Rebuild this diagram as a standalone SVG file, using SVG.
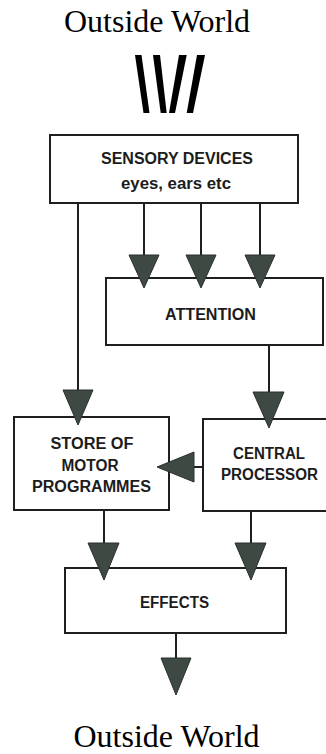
<svg xmlns="http://www.w3.org/2000/svg" width="326" height="754" viewBox="0 0 326 754">
  <style>
    .box { fill: #ffffff; stroke: #1f1f1f; stroke-width: 2; }
    .lbl { font-family: "Liberation Sans", Arial, sans-serif; font-weight: bold; font-size: 16px; fill: #1c1c1c; text-anchor: middle; }
    .world { font-family: "Liberation Serif", "Times New Roman", serif; font-size: 32px; fill: #000; text-anchor: middle; }
    .wire { stroke: #1f1f1f; stroke-width: 2; fill: none; }
    .head { fill: #3e4944; stroke: #2a302d; stroke-width: 1; stroke-linejoin: round; }
    .ray { fill: #000; }
  </style>

  <rect width="326" height="754" fill="#ffffff"/>

  <!-- source of stimuli -->
  <g id="world-in">
    <text class="world" x="157" y="32">Outside World</text>
    <polygon class="ray" points="135,55 141.5,55 149.5,113 143.5,113"/>
    <polygon class="ray" points="153,55 160,55 166.7,113 160.7,113"/>
    <polygon class="ray" points="179,55 186.7,55 175,113 169,113"/>
    <polygon class="ray" points="197,55 205,55 193,113 186.7,113"/>
  </g>

  <!-- connectors -->
  <g id="connectors">
    <line class="wire" x1="78" y1="203" x2="78" y2="392"/>
    <line class="wire" x1="144" y1="203" x2="144" y2="257"/>
    <line class="wire" x1="201" y1="203" x2="201" y2="257"/>
    <line class="wire" x1="260" y1="203" x2="260" y2="257"/>
    <line class="wire" x1="269" y1="345" x2="269" y2="394"/>
    <line class="wire" x1="192" y1="467" x2="203" y2="467"/>
    <line class="wire" x1="104" y1="510" x2="104" y2="545"/>
    <line class="wire" x1="251" y1="511" x2="251" y2="545"/>
    <line class="wire" x1="176" y1="633" x2="176" y2="660"/>
  </g>

  <g id="sensory">
    <rect class="box" x="50" y="135" width="248" height="68"/>
    <text class="lbl" x="177" y="164" textLength="152" lengthAdjust="spacingAndGlyphs">SENSORY DEVICES</text>
    <text class="lbl" x="176" y="189" textLength="110" lengthAdjust="spacingAndGlyphs">eyes, ears etc</text>
  </g>

  <g id="attention">
    <rect class="box" x="106" y="278" width="217" height="67"/>
    <text class="lbl" x="210.5" y="320" textLength="91" lengthAdjust="spacingAndGlyphs">ATTENTION</text>
  </g>

  <g id="store">
    <rect class="box" x="14" y="417" width="155" height="93"/>
    <text class="lbl" x="92" y="449" textLength="83" lengthAdjust="spacingAndGlyphs">STORE OF</text>
    <text class="lbl" x="90" y="470.5" textLength="57" lengthAdjust="spacingAndGlyphs">MOTOR</text>
    <text class="lbl" x="91.5" y="491.5" textLength="119" lengthAdjust="spacingAndGlyphs">PROGRAMMES</text>
  </g>

  <g id="central">
    <rect class="box" x="203" y="419" width="130" height="92"/>
    <text class="lbl" x="269" y="459" textLength="72" lengthAdjust="spacingAndGlyphs">CENTRAL</text>
    <text class="lbl" x="269.5" y="480" textLength="97" lengthAdjust="spacingAndGlyphs">PROCESSOR</text>
  </g>

  <g id="effects">
    <rect class="box" x="65" y="568" width="221" height="65"/>
    <text class="lbl" x="174.5" y="608" textLength="69" lengthAdjust="spacingAndGlyphs">EFFECTS</text>
  </g>

  <!-- arrowheads drawn over the box edges -->
  <g id="heads">
    <polygon class="head" points="63,390 93,390 78,425"/>
    <polygon class="head" points="129,255 159,255 144,288"/>
    <polygon class="head" points="186,255 216,255 201,288"/>
    <polygon class="head" points="245,255 275,255 260,288"/>
    <polygon class="head" points="253,392 284,392 269,428"/>
    <polygon class="head" points="194,452 194,482 157,467"/>
    <polygon class="head" points="88,543 119,543 104,580"/>
    <polygon class="head" points="235,543 266,543 251,580"/>
    <polygon class="head" points="161,658 191,658 176,695"/>
  </g>

  <g id="world-out">
    <text class="world" x="166.5" y="747">Outside World</text>
  </g>
</svg>
